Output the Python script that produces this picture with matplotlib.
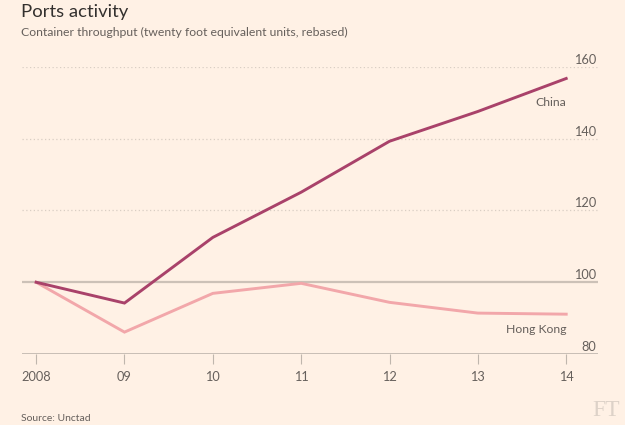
import matplotlib.pyplot as plt

plt.rcParams['font.family'] = ['Lato', 'DejaVu Sans']

years = [2008, 2009, 2010, 2011, 2012, 2013, 2014]
year_labels = ['2008', '09', '10', '11', '12', '13', '14']
china = [100, 94.2, 112.5, 125.1, 139.3, 147.6, 156.8]
hong_kong = [100, 86.1, 96.9, 99.7, 94.4, 91.4, 91.1]
y_ticks = [80, 100, 120, 140, 160]

bg = '#fff1e5'
text_col = '#66605c'

fig = plt.figure(figsize=(6.25, 4.25), dpi=100, facecolor=bg)
ax = fig.add_axes([22 / 625, 1 - 354 / 425, 576 / 625, 287 / 425])
ax.set_facecolor(bg)

ax.set_xlim(2007.84, 2014.36)
ax.set_ylim(80, 160)

# gridlines + right-hand labels sitting on them
for v in y_ticks:
    if v == 80:
        ax.axhline(v, color='#bfb6ad', lw=1.2, zorder=1)
    elif v == 100:
        ax.axhline(v, color='#ccc1b7', lw=1.6, zorder=1)
    else:
        ax.axhline(v, color='#d9cec4', lw=0.9, ls=(0, (1, 2)), zorder=1)
    ax.text(2014.34, v + 0.9, str(v), ha='right', va='baseline', fontsize=9.2, color=text_col)

ax.plot(years, hong_kong, color='#f2a7aa', lw=2.1, zorder=3, solid_joinstyle='miter')
ax.plot(years, china, color='#a9426a', lw=2.1, zorder=4, solid_joinstyle='miter')

ax.text(2014, 150.1, 'China', ha='right', va='center', fontsize=8.8, color=text_col)
ax.text(2014, 86.7, 'Hong Kong', ha='right', va='center', fontsize=8.8, color=text_col)

for s in ax.spines.values():
    s.set_visible(False)
ax.set_yticks([])
ax.set_xticks(years)
ax.set_xticklabels(year_labels, fontsize=9.2, color=text_col)
ax.tick_params(axis='x', length=7, width=0.8, color='#bfb6ad', pad=5)

fig.text(21 / 625, 1 - 17 / 425, 'Ports activity', fontsize=13.3, color='#33302e', va='baseline', ha='left')
fig.text(21 / 625, 1 - 35.5 / 425, 'Container throughput (twenty foot equivalent units, rebased)',
         fontsize=8.8, color=text_col, va='baseline', ha='left')
fig.text(21 / 625, 1 - 421 / 425, 'Source: Unctad', fontsize=7.5, color=text_col, va='baseline', ha='left')
fig.text(620 / 625, 1 - 410 / 425, 'FT', fontsize=17, color='#ddd2c8', va='center', ha='right',
         family='Liberation Serif')

fig.savefig('out.png', dpi=100, facecolor=bg)
